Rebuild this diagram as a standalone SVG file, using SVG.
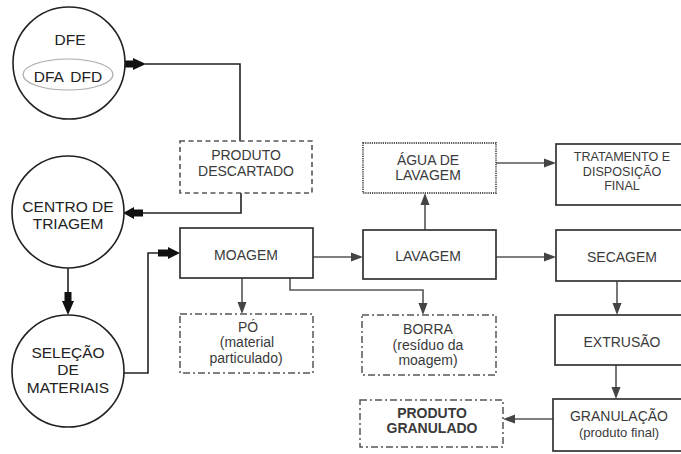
<svg xmlns="http://www.w3.org/2000/svg" width="681" height="454" viewBox="0 0 681 454">
<style>
text{font-family:"Liberation Sans",Arial,sans-serif;fill:#3a3a3a;text-anchor:middle}
.c{fill:#fff;stroke:#222;stroke-width:1.6}
.t{font-size:15.5px;fill:#222}
.b{fill:#fff;stroke:#333;stroke-width:1.7}
.bt{font-size:14px}
.dash{fill:#fff;stroke:#555;stroke-width:1.6;stroke-dasharray:5 3.5}
.dot{fill:#fff;stroke:#555;stroke-width:1.8;stroke-dasharray:1.2 1}
.dd{fill:#fff;stroke:#555;stroke-width:1.5;stroke-dasharray:7 3 2 3}
.ln{fill:none;stroke:#222;stroke-width:1.6}
.gl{fill:none;stroke:#555;stroke-width:1.6}
.ah{fill:#444}
.th{fill:#111}
</style>
<g id="connectors">
<polyline class="ln" points="145,64 240,64 240,141"/>
<path class="th" d="M124,60.5 H133 V58 L146,64 L133,70 V67.5 H124 Z"/>
<polyline class="ln" points="241,193 241,213 143,213"/>
<path class="th" d="M143,209.5 H134 V207 L123,213 L134,219 V216.5 H143 Z"/>
<line class="ln" x1="68" y1="268" x2="68" y2="292"/>
<path class="th" d="M64.5,292 V301 H62 L68,315 L74,301 H71.5 V292 Z"/>
<polyline class="ln" points="124,373 148,373 148,253 158,253"/>
<path class="th" d="M158,249.5 H168 V247 L180,253 L168,259 V256.5 H158 Z"/>
<line class="gl" x1="313" y1="257" x2="352" y2="257"/>
<path class="ah" d="M363,257 L351,252.5 L351,261.5 Z"/>
<line class="gl" x1="242" y1="278" x2="242" y2="303"/>
<path class="ah" d="M242,314 L237.5,302 L246.5,302 Z"/>
<polyline class="gl" points="290,278 290,290 423,290 423,303"/>
<path class="ah" d="M423,315 L418.5,303 L427.5,303 Z"/>
<line class="gl" x1="425" y1="230" x2="425" y2="204"/>
<path class="ah" d="M425,193 L420.5,205 L429.5,205 Z"/>
<line class="gl" x1="496" y1="163" x2="545" y2="163"/>
<path class="ah" d="M556,163 L544,158.5 L544,167.5 Z"/>
<line class="gl" x1="496" y1="257" x2="545" y2="257"/>
<path class="ah" d="M556,257 L544,252.5 L544,261.5 Z"/>
<line class="gl" x1="617" y1="281" x2="617" y2="304"/>
<path class="ah" d="M617,315 L612.5,303 L621.5,303 Z"/>
<line class="gl" x1="616" y1="365" x2="616" y2="388"/>
<path class="ah" d="M616,399 L611.5,387 L620.5,387 Z"/>
<line class="gl" x1="553" y1="419" x2="514" y2="419"/>
<path class="ah" d="M503,419 L515,414.5 L515,423.5 Z"/>
</g>
<g id="dfe">
<circle class="c" cx="69" cy="63" r="56"/>
<text class="t" x="70" y="45">DFE</text>
<ellipse cx="68" cy="74.5" rx="45" ry="15.5" fill="none" stroke="#aaa" stroke-width="1.2"/>
<text class="t" x="68" y="82" style="font-size:15.5px;word-spacing:3px">DFA DFD</text>
</g>
<g id="centro">
<circle class="c" cx="68" cy="212" r="56"/>
<text class="t" x="68" y="212">CENTRO DE</text>
<text class="t" x="68" y="229">TRIAGEM</text>
</g>
<g id="selecao">
<circle class="c" cx="68" cy="371" r="56"/>
<text class="t" x="68" y="358">SELEÇÃO</text>
<text class="t" x="68" y="375">DE</text>
<text class="t" x="68" y="393">MATERIAIS</text>
</g>
<g id="descartado">
<rect class="dash" x="180" y="141" width="132" height="52"/>
<text class="bt" x="246" y="160">PRODUTO</text>
<text class="bt" x="246" y="176">DESCARTADO</text>
</g>
<g id="moagem">
<rect class="b" x="180" y="228" width="133" height="50"/>
<text class="bt" x="246" y="260">MOAGEM</text>
</g>
<g id="po">
<rect class="dd" x="180" y="314" width="133" height="59"/>
<text class="bt" x="248" y="332">PÓ</text>
<text class="bt" x="247" y="347">(material</text>
<text class="bt" x="246" y="363">particulado)</text>
</g>
<g id="agua">
<rect class="dot" x="363" y="143" width="133" height="50"/>
<text class="bt" x="428" y="165">ÁGUA DE</text>
<text class="bt" x="428" y="180">LAVAGEM</text>
</g>
<g id="lavagem">
<rect class="b" x="363" y="230" width="133" height="49"/>
<text class="bt" x="428" y="261">LAVAGEM</text>
</g>
<g id="borra">
<rect class="dd" x="362" y="315" width="134" height="60"/>
<text class="bt" x="428" y="334">BORRA</text>
<text class="bt" x="428" y="350">(resíduo da</text>
<text class="bt" x="428" y="365">moagem)</text>
</g>
<g id="tratamento">
<rect class="b" x="556" y="144" width="135" height="61"/>
<text class="bt" x="622" y="161" style="font-size:12.6px">TRATAMENTO E</text>
<text class="bt" x="622" y="176" style="font-size:12.6px">DISPOSIÇÃO</text>
<text class="bt" x="622" y="190" style="font-size:12.6px">FINAL</text>
</g>
<g id="secagem">
<rect class="b" x="556" y="230" width="135" height="51"/>
<text class="bt" x="622" y="262">SECAGEM</text>
</g>
<g id="extrusao">
<rect class="b" x="555" y="315" width="136" height="50"/>
<text class="bt" x="622" y="347">EXTRUSÃO</text>
</g>
<g id="granulacao">
<rect class="b" x="553" y="399" width="138" height="52"/>
<text class="bt" x="619" y="421">GRANULAÇÃO</text>
<text class="bt" x="619" y="437" style="font-size:13px">(produto final)</text>
</g>
<g id="granulado">
<rect class="dd" x="360" y="400" width="143" height="47"/>
<text class="bt" x="432" y="418" style="font-weight:bold">PRODUTO</text>
<text class="bt" x="432" y="433" style="font-weight:bold">GRANULADO</text>
</g>
</svg>
